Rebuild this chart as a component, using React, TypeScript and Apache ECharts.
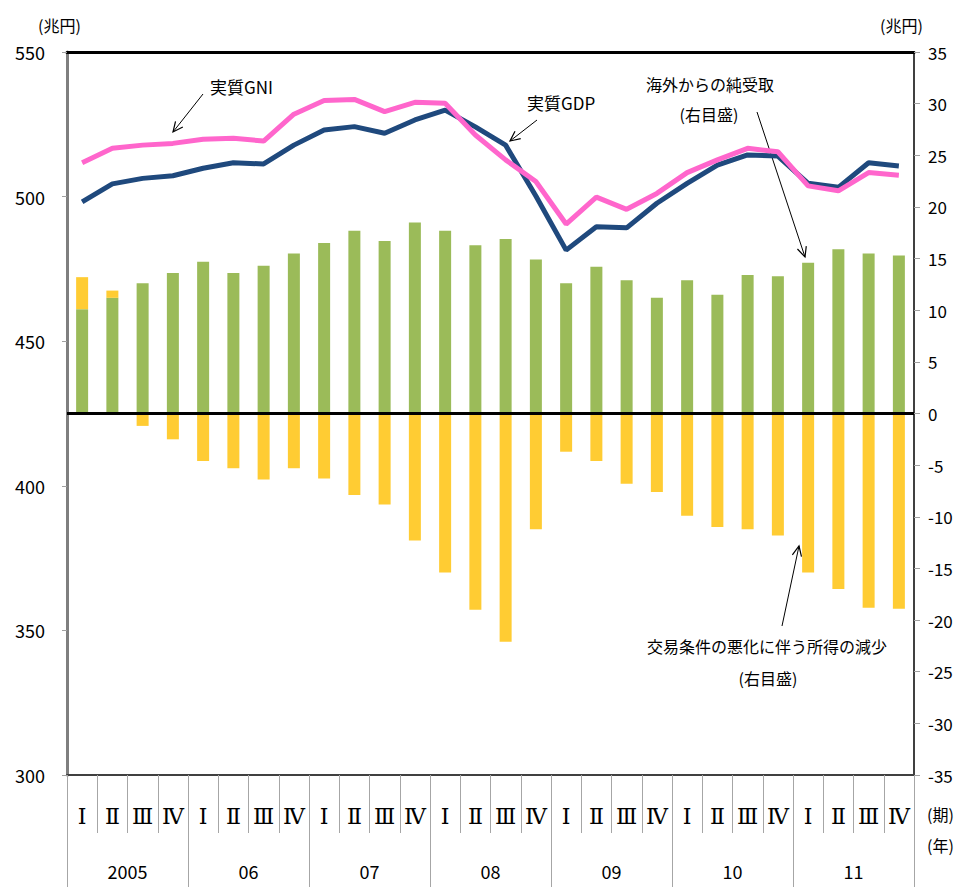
import React, { useEffect, useRef } from "react";
import * as echarts from "echarts";

const years = ["2005", "06", "07", "08", "09", "10", "11"];
const quarterLabels = ["Ⅰ", "Ⅱ", "Ⅲ", "Ⅳ"];
const categories: string[] = [];
years.forEach((y) => quarterLabels.forEach((q, i) => categories.push(y + "-Q" + (i + 1))));

const realGDP = [498.2, 504.4, 506.3, 507.2, 509.8, 511.7, 511.3, 517.8, 523.0, 524.2, 521.9, 526.5, 529.9, 524.1,
  517.8, 500.2, 481.5, 489.6, 489.2, 497.7, 504.6, 510.9, 514.4, 514.0, 504.6, 503.2, 511.7, 510.6];
const realGNI = [511.7, 516.7, 517.8, 518.4, 519.8, 520.2, 519.2, 528.5, 533.2, 533.6, 529.4, 532.6, 532.3, 521.3,
  512.7, 505.2, 490.5, 499.8, 495.6, 501.1, 508.3, 512.7, 516.7, 515.5, 503.7, 502.0, 508.3, 507.4];
const netIncomeAbroad = [10.1, 11.2, 12.6, 13.6, 14.7, 13.6, 14.3, 15.5, 16.5, 17.7, 16.7, 18.5, 17.7, 16.3,
  16.9, 14.9, 12.6, 14.2, 12.9, 11.2, 12.9, 11.5, 13.4, 13.3, 14.6, 15.9, 15.5, 15.3];
const tradeLoss = [3.1, 0.7, -1.2, -2.5, -4.6, -5.3, -6.4, -5.3, -6.3, -7.9, -8.8, -12.3, -15.4, -19.0,
  -22.1, -11.2, -3.7, -4.6, -6.8, -7.6, -9.9, -11.0, -11.2, -11.8, -15.4, -17.0, -18.8, -18.9];

const FONT = '"Noto Sans CJK JP", "Noto Sans", sans-serif';
const SERIF = '"DejaVu Serif", "Liberation Serif", serif';

function arrow(x1: number, y1: number, x2: number, y2: number) {
  const dx = x1 - x2;
  const dy = y1 - y2;
  const len = Math.sqrt(dx * dx + dy * dy);
  const ux = dx / len;
  const uy = dy / len;
  const L = 11;
  const a = (25 * Math.PI) / 180;
  const r = (ang: number) => [x2 + L * (ux * Math.cos(ang) - uy * Math.sin(ang)), y2 + L * (ux * Math.sin(ang) + uy * Math.cos(ang))];
  return [
    { type: "line", shape: { x1, y1, x2, y2 }, style: { stroke: "#000", lineWidth: 1 }, silent: true },
    { type: "polyline", shape: { points: [r(a), [x2, y2], r(-a)] }, style: { stroke: "#000", lineWidth: 1.2, fill: null }, silent: true },
  ];
}

function txt(text: string, x: number, y: number, size = 16, align = "left") {
  return {
    type: "text",
    silent: true,
    style: {
      text, x, y, fill: "#000", fontSize: size, fontFamily: FONT,
      textAlign: align, align, textVerticalAlign: "middle", verticalAlign: "middle",
    },
  };
}

export default function App() {
  const ref = useRef<HTMLDivElement>(null);
  useEffect(() => {
    if (!ref.current) return;
    const chart = echarts.init(ref.current, undefined, { renderer: "svg" });
    const option: any = {
      animation: false,
      backgroundColor: "#fff",
      textStyle: { fontFamily: FONT },
      grid: { left: 67, right: 42, top: 52, bottom: 112, containLabel: false, outerBoundsMode: "none" },
      xAxis: [
        {
          type: "category",
          data: categories,
          position: "bottom",
          axisLine: { show: true, onZero: false, lineStyle: { color: "#404040", width: 2 } },
          axisTick: { show: true, interval: 0, length: 58, lineStyle: { color: "#a6a6a6", width: 1 } },
          axisLabel: {
            interval: 0, margin: 30, fontSize: 22, color: "#000", fontFamily: SERIF,
            formatter: (_v: string, idx: number) => quarterLabels[idx % 4],
          },
        },
        {
          type: "category",
          data: years,
          position: "bottom",
          axisLine: { show: false, onZero: false },
          axisTick: { show: true, interval: 0, length: 112, lineStyle: { color: "#a6a6a6", width: 1 } },
          axisLabel: { interval: 0, margin: 87, fontSize: 18, color: "#000", fontFamily: FONT },
        },
        {
          type: "category",
          data: categories,
          position: "top",
          axisLine: { show: true, onZero: false, lineStyle: { color: "#000", width: 3 } },
          axisTick: { show: false },
          axisLabel: { show: false },
        },
      ],
      yAxis: [
        {
          type: "value",
          min: 300, max: 550, interval: 50,
          position: "left",
          splitLine: { show: false },
          axisLine: { show: true, lineStyle: { color: "#7f7f7f", width: 3 } },
          axisTick: { show: true, length: 5, lineStyle: { color: "#a0a0a0" } },
          axisLabel: { margin: 22, fontSize: 18, color: "#000", fontFamily: FONT },
        },
        {
          type: "value",
          min: -35, max: 35, interval: 5,
          position: "right",
          splitLine: { show: false },
          axisLine: { show: true, lineStyle: { color: "#404040", width: 2 } },
          axisTick: { show: true, length: 6, lineStyle: { color: "#a0a0a0" } },
          axisLabel: { margin: 14, fontSize: 17, color: "#000", fontFamily: FONT },
        },
      ],
      series: [
        {
          name: "海外からの純受取",
          type: "bar",
          xAxisIndex: 0,
          yAxisIndex: 1,
          stack: "inc",
          barWidth: 12,
          data: netIncomeAbroad,
          itemStyle: { color: "#9BBB59" },
          markLine: {
            silent: true,
            symbol: ["none", "none"],
            label: { show: false },
            lineStyle: { color: "#000", width: 3, type: "solid" },
            data: [{ yAxis: 0 }],
          },
        },
        {
          name: "交易条件の悪化に伴う所得の減少",
          type: "bar",
          xAxisIndex: 0,
          yAxisIndex: 1,
          stack: "inc",
          barWidth: 12,
          data: tradeLoss,
          itemStyle: { color: "#FFCC33" },
        },
        {
          name: "実質GDP",
          type: "line",
          xAxisIndex: 0,
          yAxisIndex: 0,
          data: realGDP,
          symbol: "none",
          lineStyle: { color: "#1F497D", width: 5 },
          z: 3,
        },
        {
          name: "実質GNI",
          type: "line",
          xAxisIndex: 0,
          yAxisIndex: 0,
          data: realGNI,
          symbol: "none",
          lineStyle: { color: "#FF66CC", width: 5 },
          z: 4,
        },
      ],
      graphic: [
        txt("(兆円)", 38, 25, 16),
        txt("(兆円)", 880, 25, 16),
        txt("(期)", 927, 814, 16),
        txt("(年)", 927, 845, 16),
        txt("実質GNI", 210, 86, 17),
        ...arrow(203, 94, 173, 132),
        txt("実質GDP", 527, 102, 17),
        ...arrow(537, 120, 510, 141),
        txt("海外からの純受取", 710, 84, 16, "center"),
        txt("(右目盛)", 709, 114, 16, "center"),
        ...arrow(757, 112, 805, 257),
        txt("交易条件の悪化に伴う所得の減少", 767, 646, 16, "center"),
        txt("(右目盛)", 768, 678, 16, "center"),
        ...arrow(782, 626, 799, 546),
      ],
    };
    chart.setOption(option);
    return () => chart.dispose();
  }, []);
  return <div ref={ref} style={{ position: "absolute", left: 0, top: 0, width: 956, height: 887 }} />;
}
